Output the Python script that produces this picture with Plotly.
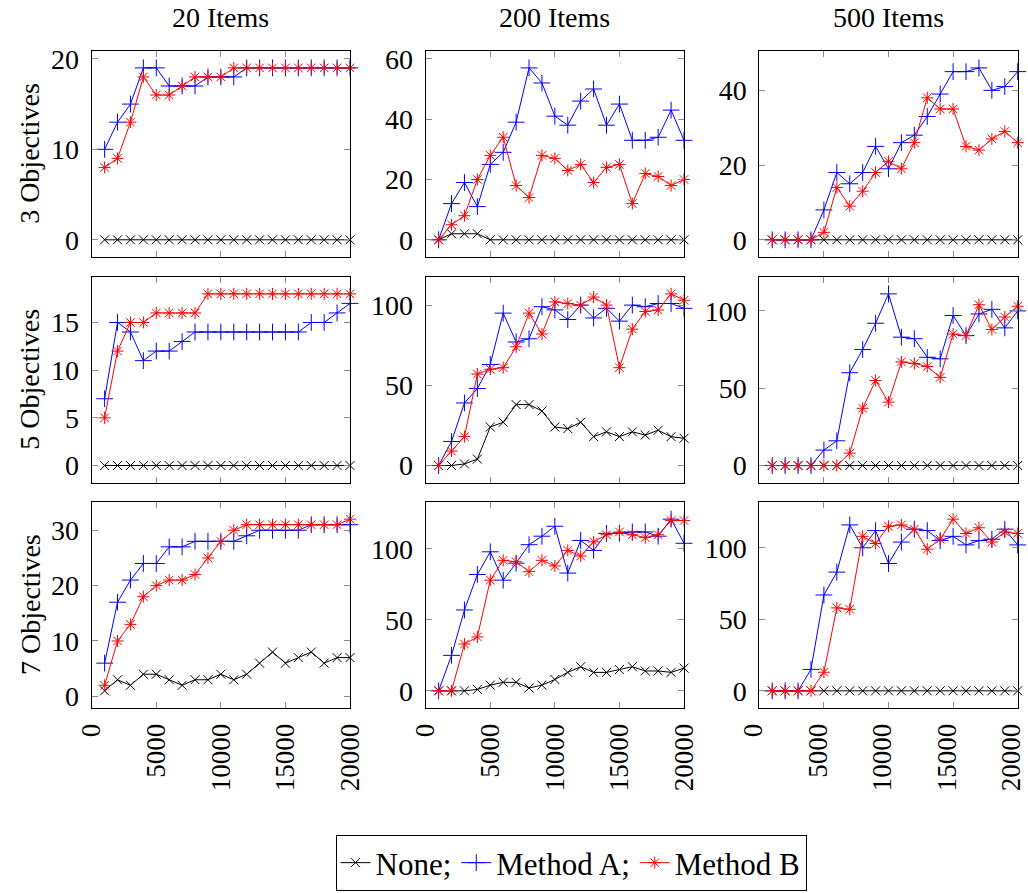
import plotly.graph_objects as go

# Evaluation budget (x values)
evaluations = [1000, 2000, 3000, 4000, 5000, 6000, 7000, 8000, 9000, 10000,
               11000, 12000, 13000, 14000, 15000, 16000, 17000, 18000, 19000, 20000]

item_titles = ["20 Items", "200 Items", "500 Items"]
objective_titles = ["3 Objectives", "5 Objectives", "7 Objectives"]
series_names = ["None;", "Method A;", "Method B"]

# 3 objectives
none_3_20 = [0] * 20
a_3_20 = [10, 13, 15, 19, 19, 17, 17, 17, 18, 18, 18, 19, 19, 19, 19, 19, 19, 19, 19, 19]
b_3_20 = [8, 9, 13, 18, 16, 16, 17, 18, 18, 18, 19, 19, 19, 19, 19, 19, 19, 19, 19, 19]

none_3_200 = [0, 2, 2, 2, 0, 0, 0, 0, 0, 0, 0, 0, 0, 0, 0, 0, 0, 0, 0, 0]
a_3_200 = [0, 12, 19, 11, 25, 29, 39, 57, 52, 41, 38, 46, 50, 38, 45, 33, 33, 34, 43, 33]
b_3_200 = [0, 5, 8, 20, 28, 34, 18, 14, 28, 27, 23, 25, 19, 24, 25, 12, 22, 21, 18, 20]

none_3_500 = [0] * 20
a_3_500 = [0, 0, 0, 0, 8, 18, 15, 18, 25, 19, 26, 28, 33, 39, 45, 45, 46, 40, 41, 45]
b_3_500 = [0, 0, 0, 0, 2, 14, 9, 13, 18, 21, 19, 26, 38, 35, 35, 25, 24, 27, 29, 26]

# 5 objectives
none_5_20 = [0] * 20
a_5_20 = [7, 15, 14, 11, 12, 12, 13, 14, 14, 14, 14, 14, 14, 14, 14, 14, 15, 15, 16, 17]
b_5_20 = [5, 12, 15, 15, 16, 16, 16, 16, 18, 18, 18, 18, 18, 18, 18, 18, 18, 18, 18, 18]

none_5_200 = [0, 0, 1, 4, 24, 27, 38, 38, 34, 24, 23, 27, 18, 21, 18, 21, 19, 22, 18, 17]
a_5_200 = [0, 15, 39, 48, 63, 95, 77, 79, 99, 97, 91, 100, 92, 98, 90, 100, 99, 101, 101, 98]
b_5_200 = [0, 9, 18, 57, 60, 61, 74, 95, 82, 102, 101, 100, 105, 100, 61, 85, 96, 97, 107, 103]

none_5_500 = [0] * 20
a_5_500 = [0, 0, 0, 0, 10, 16, 60, 75, 92, 111, 83, 82, 70, 69, 97, 84, 98, 101, 89, 100]
b_5_500 = [0, 0, 0, 0, 0, 0, 8, 37, 55, 41, 67, 66, 64, 57, 85, 84, 104, 88, 96, 103]

# 7 objectives
none_7_20 = [1, 3, 2, 4, 4, 3, 2, 3, 3, 4, 3, 4, 6, 8, 6, 7, 8, 6, 7, 7]
a_7_20 = [6, 17, 21, 24, 24, 27, 27, 28, 28, 28, 28, 29, 30, 30, 30, 30, 31, 31, 31, 31]
b_7_20 = [2, 10, 13, 18, 20, 21, 21, 22, 25, 28, 30, 31, 31, 31, 31, 31, 31, 31, 31, 32]

none_7_200 = [0, 0, 0, 1, 4, 6, 6, 2, 4, 8, 13, 17, 13, 13, 15, 17, 14, 14, 13, 16]
a_7_200 = [0, 25, 57, 82, 98, 78, 90, 103, 109, 116, 83, 106, 99, 111, 111, 112, 112, 109, 121, 104]
b_7_200 = [0, 0, 33, 38, 78, 92, 91, 84, 92, 88, 99, 95, 105, 110, 112, 110, 108, 110, 120, 120]

none_7_500 = [0] * 20
a_7_500 = [0, 0, 0, 15, 67, 83, 116, 100, 112, 89, 104, 113, 112, 105, 108, 102, 105, 106, 113, 102]
b_7_500 = [0, 0, 0, 0, 13, 58, 57, 108, 103, 115, 116, 113, 99, 106, 120, 110, 114, 104, 111, 110]

# y tick spacing per panel (row-major)
y_dticks = [10, 20, 20, 5, 50, 50, 10, 50, 50]

x_ticks = [0, 5000, 10000, 15000, 20000]
x_tick_text = ["0", "5000", "10000", "15000", "20000"]

panels = [
    (none_3_20, a_3_20, b_3_20), (none_3_200, a_3_200, b_3_200), (none_3_500, a_3_500, b_3_500),
    (none_5_20, a_5_20, b_5_20), (none_5_200, a_5_200, b_5_200), (none_5_500, a_5_500, b_5_500),
    (none_7_20, a_7_20, b_7_20), (none_7_200, a_7_200, b_7_200), (none_7_500, a_7_500, b_7_500),
]

W, H = 1028, 893
col_px = [(91.7, 350.0), (425.7, 684.0), (759.3, 1017.7)]
row_px = [(50.7, 257.0), (276.7, 482.7), (502.0, 708.0)]

FONT = "Liberation Serif"
FS = 28

styles = [
    dict(color="black", symbol="x-thin-open", size=9),
    dict(color="blue", symbol="cross-thin-open", size=12),
    dict(color="red", symbol="asterisk-open", size=10),
]

fig = go.Figure()
layout = {}

for idx, series in enumerate(panels):
    r, c = divmod(idx, 3)
    n = idx + 1
    xa = "x" if n == 1 else f"x{n}"
    ya = "y" if n == 1 else f"y{n}"
    for k, vals in enumerate(series):
        st = styles[k]
        fig.add_trace(go.Scatter(
            x=evaluations, y=vals, xaxis=xa, yaxis=ya,
            mode="lines+markers", name=series_names[k],
            legendgroup=series_names[k], showlegend=(idx == 0),
            line=dict(color=st["color"], width=1),
            marker=dict(symbol=st["symbol"], size=st["size"], color=st["color"],
                        line=dict(color=st["color"], width=1)),
            cliponaxis=False,
        ))

    allv = [v for s in series for v in s]
    lo, hi = min(allv), max(allv)
    pad = 0.1 * (hi - lo)
    x0, x1 = col_px[c]
    y0, y1 = row_px[r]
    common = dict(
        showline=True, linecolor="black", linewidth=1, mirror="ticks",
        ticks="inside", ticklen=6, tickwidth=1, tickcolor="#8c8c8c",
        showgrid=False, zeroline=False, automargin=False,
        ticklabeloverflow="allow",
        tickfont=dict(family=FONT, size=FS, color="black"),
    )
    layout["xaxis" if n == 1 else f"xaxis{n}"] = dict(
        common,
        domain=[x0 / W, x1 / W], anchor=ya, range=[0, 20000],
        tickvals=x_ticks, ticktext=x_tick_text, tickangle=-90,
        showticklabels=(r == 2), ticklabelstandoff=4,
        ticklabelshift=(-6 if c == 2 else 0),
        tickfont=dict(family=FONT, size=27, color="black"),
    )
    layout["yaxis" if n == 1 else f"yaxis{n}"] = dict(
        common,
        domain=[1 - y1 / H, 1 - y0 / H], anchor=xa, range=[lo - pad, hi + pad],
        tick0=0, dtick=y_dticks[idx], ticklabelstandoff=6,
    )

annotations = []
for c, t in enumerate(item_titles):
    x0, x1 = col_px[c]
    annotations.append(dict(text=t, x=(x0 + x1) / 2 / W, y=1 - 18 / H, xref="paper", yref="paper",
                            showarrow=False, xanchor="center", yanchor="middle",
                            font=dict(family=FONT, size=FS, color="black")))
for r, t in enumerate(objective_titles):
    y0, y1 = row_px[r]
    annotations.append(dict(text=t, x=30 / W, y=1 - (y0 + y1) / 2 / H, xref="paper", yref="paper",
                            showarrow=False, xanchor="center", yanchor="middle", textangle=-90,
                            font=dict(family=FONT, size=FS, color="black")))

fig.update_layout(
    **layout,
    width=W, height=H,
    margin=dict(l=0, r=0, t=0, b=0, autoexpand=False),
    plot_bgcolor="white", paper_bgcolor="white",
    annotations=annotations,
    legend=dict(orientation="h", x=571 / W, xanchor="center", y=1 - 891 / H, yanchor="bottom",
                bordercolor="black", borderwidth=1, bgcolor="white",
                font=dict(family=FONT, size=31, color="black"),
                tracegroupgap=0),
)

fig.write_html("out.html")
